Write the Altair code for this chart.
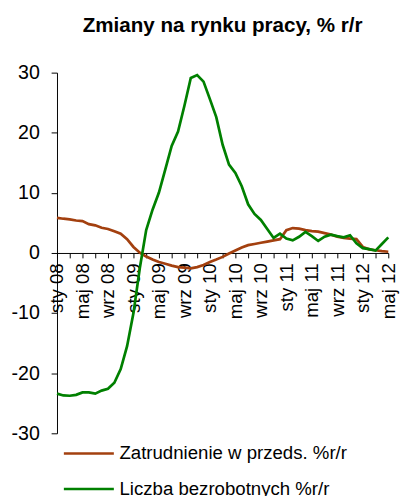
import altair as alt
import pandas as pd

# Month index 0 = sty 08 ... 52 = maj 12
tick_labels = ["sty 08", "maj 08", "wrz 08", "sty 09", "maj 09", "wrz 09",
               "sty 10", "maj 10", "wrz 10", "sty 11", "maj 11", "wrz 11",
               "sty 12", "maj 12"]

zatrudnienie = [5.85, 5.7, 5.6, 5.4, 5.3, 4.8, 4.6, 4.2, 4.0, 3.6, 3.2, 2.3, 1.0,
                0.05, -0.6, -1.1, -1.5, -1.8, -2.1, -2.35, -2.45, -2.55, -2.35, -2.0,
                -1.5, -1.1, -0.65, -0.1, 0.4, 0.9, 1.3, 1.5, 1.7, 1.9, 2.1, 2.3,
                3.8, 4.15, 4.05, 3.8, 3.65, 3.55, 3.3, 3.05, 2.7, 2.5, 2.4, 2.3,
                1.0, 0.6, 0.45, 0.3, 0.2]

bezrobotni = [-23.4, -23.7, -23.75, -23.6, -23.2, -23.2, -23.4, -22.9, -22.6, -21.6,
              -19.3, -15.5, -10.0, -2.5, 3.8, 7.2, 10.05, 13.9, 17.8, 20.2, 24.5,
              29.1, 29.6, 28.5, 25.6, 22.6, 18.0, 14.7, 13.3, 11.1, 8.1, 6.5, 5.5,
              4.0, 2.5, 3.2, 2.4, 2.1, 2.7, 3.5, 2.8, 2.0, 2.7, 3.05, 2.8, 2.6,
              2.95, 1.6, 0.8, 0.65, 0.4, 1.5, 2.6]

series_names = ["Zatrudnienie w przeds. %r/r", "Liczba bezrobotnych %r/r"]
series_colors = ["#A3400F", "#008000"]

rows = []
for i, v in enumerate(zatrudnienie):
    rows.append({"idx": i, "value": v, "seria": series_names[0]})
for i, v in enumerate(bezrobotni):
    rows.append({"idx": i, "value": v, "seria": series_names[1]})
df = pd.DataFrame(rows)

W, H = 338, 368
label_array = "[" + ",".join("'" + s + "'" for s in tick_labels) + "]"

chart = alt.Chart(df).mark_line(strokeWidth=2.75).encode(
    x=alt.X("idx:Q",
            scale=alt.Scale(domain=[0, 52], nice=False, zero=False),
            axis=alt.Axis(values=list(range(0, 53, 2)),
                          labelExpr=f"datum.value % 4 == 0 ? {label_array}[datum.value / 4] : ''",
                          labelAngle=270, labelFontSize=19, labelPadding=5,
                          tickSize=5, offset=-H / 2, grid=False, title=None,
                          domainColor="black", tickColor="black", labelColor="black",
                          labelOverlap=False, labelFlush=False)),
    y=alt.Y("value:Q",
            scale=alt.Scale(domain=[-30, 30], nice=False),
            axis=alt.Axis(values=[-30, -20, -10, 0, 10, 20, 30], grid=False, title=None,
                          labelExpr="'' + datum.value",
                          labelFontSize=20, labelPadding=12, tickSize=6,
                          domainColor="black", tickColor="black", labelColor="black")),
    color=alt.Color("seria:N",
                    scale=alt.Scale(domain=series_names, range=series_colors),
                    sort=series_names,
                    legend=alt.Legend(title=None, orient="none", legendX=7, legendY=379,
                                      direction="vertical",
                                      symbolType="M-1.1875,0H5.1875", symbolSize=256,
                                      symbolStrokeWidth=2.5, labelOffset=37.7,
                                      labelFontSize=19, labelColor="black",
                                      rowPadding=16.4, labelLimit=400)),
    order=alt.Order("idx:Q"),
).properties(
    width=W, height=H,
    title=alt.TitleParams("Zmiany na rynku pracy, % r/r", fontSize=21, fontWeight="bold",
                          anchor="middle", frame="group", baseline="alphabetic",
                          offset=10, color="black"),
    autosize=alt.AutoSizeParams(type="none"),
    padding={"left": 50, "top": 61, "right": 14, "bottom": 59},
).configure(
    font="Liberation Sans"
).configure_view(
    stroke=None
)

chart.save("out.html", embed_options={"renderer": "svg", "actions": False})
